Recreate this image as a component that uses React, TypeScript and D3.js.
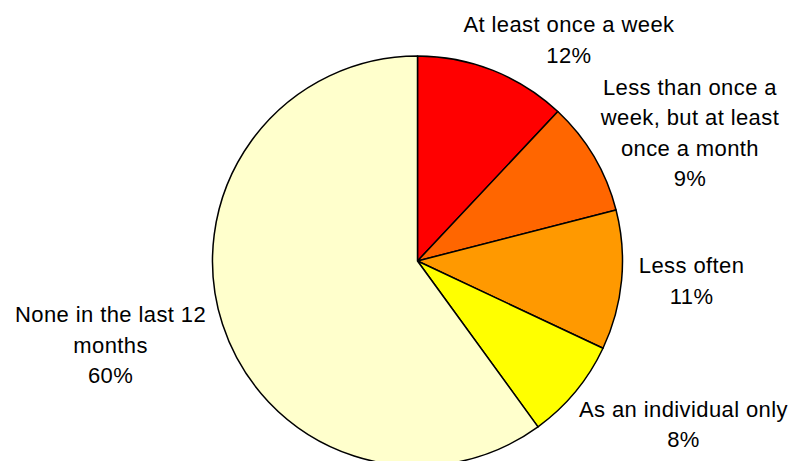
import React from "react";
import * as d3 from "d3";

const categories = [
  "At least once a week",
  "Less than once a week, but at least once a month",
  "Less often",
  "As an individual only",
  "None in the last 12 months",
];
const values = [12, 9, 11, 8, 60];
const labelLines = [
  ["At least once a week"],
  ["Less than once a", "week, but at least", "once a month"],
  ["Less often"],
  ["As an individual only"],
  ["None in the last 12", "months"],
];
const colors = ["#FF0000", "#FF6600", "#FF9900", "#FFFF00", "#FFFFCC"];
// label offsets (dx to text center, dy to first baseline) from the arc mid-point on the rim
const labelOffsets: [number, number][] = [
  [76, -38],
  [96, -62],
  [70, -7],
  [108, 25],
  [-112, -2],
];

const W = 793;
const H = 461;
const cx = 417.5;
const cy = 261;
const R = 205;
const LINE = 30.5;

export default function App() {
  const data = categories.map((c, i) => ({ c, v: values[i], i }));
  const pie = d3
    .pie<any>()
    .value((d) => d.v)
    .sort(null)
    .startAngle(0)
    .endAngle(2 * Math.PI);
  const arcs = pie(data);
  const arc = d3.arc<any>().innerRadius(0).outerRadius(R);

  return (
    <svg
      width={W}
      height={H}
      style={{ position: "absolute", left: 0, top: 0, background: "#fff" }}
    >
      <g transform={`translate(${cx},${cy})`}>
        {arcs.map((a, i) => (
          <path
            key={i}
            d={arc(a) || ""}
            fill={colors[i]}
            stroke="#000"
            strokeWidth={1.5}
            strokeLinejoin="round"
          />
        ))}
        {arcs.map((a, i) => {
          const mid = (a.startAngle + a.endAngle) / 2;
          const px = R * Math.sin(mid);
          const py = -R * Math.cos(mid);
          const [dx, dy] = labelOffsets[i];
          const lines = [...labelLines[i], `${values[i]}%`];
          return (
            <text
              key={"t" + i}
              x={px + dx}
              y={py + dy}
              textAnchor="middle"
              fontFamily="'Liberation Sans', Arial, sans-serif"
              fontSize={22}
              letterSpacing={0.4}
              fill="#000"
            >
              {lines.map((l, j) => (
                <tspan key={j} x={px + dx} y={py + dy + j * LINE}>
                  {l}
                </tspan>
              ))}
            </text>
          );
        })}
      </g>
    </svg>
  );
}
